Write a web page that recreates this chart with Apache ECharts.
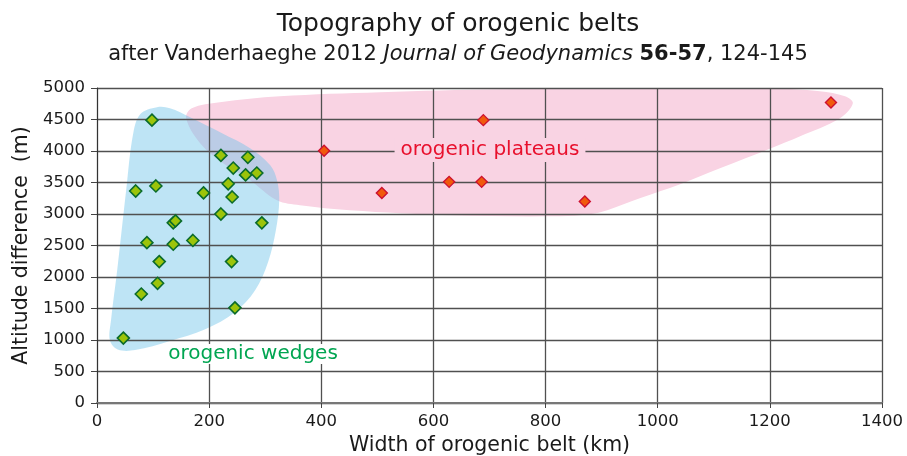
<!DOCTYPE html>
<html>
<head>
<meta charset="utf-8">
<script src="https://cdn.jsdelivr.net/npm/echarts@6/dist/echarts.min.js"></script>
<style>html,body{margin:0;padding:0;background:#fff}#c{width:907px;height:456px}</style>
</head>
<body>
<div id="c"></div>
<script>
// ---- data ----
const wedgeX = [98, 221, 269, 243, 265, 285, 234, 69, 105, 190, 241, 221, 294, 136, 140, 89, 136, 171, 111, 240, 108, 79, 246, 47];
const wedgeY = [4490, 3930, 3900, 3730, 3620, 3650, 3480, 3365, 3445, 3335, 3270, 3000, 2860, 2860, 2890, 2545, 2520, 2580, 2245, 2245, 1900, 1730, 1510, 1030];
const plateauX = [405, 508, 628, 686, 689, 870, 1309];
const plateauY = [4005, 3335, 3510, 3510, 4490, 3200, 4770];
// outline of the shaded fields (data units)
const wedgeFieldX = [107, 77, 64, 52, 36, 25, 23, 37, 68, 130, 193, 246, 282, 305, 319, 325, 321, 309, 273, 223, 166, 130];
const wedgeFieldY = [4694, 4583, 4249, 3376, 2106, 1313, 995, 850, 840, 985, 1170, 1440, 1789, 2233, 2741, 3217, 3535, 3773, 4043, 4281, 4535, 4678];
const plateauFieldX = [159, 169, 219, 326, 505, 719, 986, 1200, 1289, 1334, 1348, 1325, 1254, 1202, 1111, 1040, 968, 910, 879, 826, 630, 451, 362, 321, 273, 225, 184];
const plateauFieldY = [4519, 4678, 4773, 4868, 4932, 4979, 4995, 4995, 4948, 4868, 4757, 4519, 4233, 4043, 3725, 3471, 3249, 3059, 2995, 2963, 2979, 3059, 3138, 3217, 3535, 3804, 4122];
const xTicks = [0, 200, 400, 600, 800, 1000, 1200, 1400];
const yTicks = [0, 500, 1000, 1500, 2000, 2500, 3000, 3500, 4000, 4500, 5000];

const FONT = '"DejaVu Sans", Arial, sans-serif';
const chart = echarts.init(document.getElementById('c'), null, {renderer: 'canvas'});

function zip(xs, ys) { return xs.map((x, i) => [x, ys[i]]); }

function fieldSeries(name, xs, ys, color) {
  return {
    type: 'custom', name: name, silent: true, z: 1, clip: false,
    data: [[xs[0], ys[0]]],
    renderItem: function (params, api) {
      const pts = xs.map((x, i) => api.coord([x, ys[i]]));
      return {
        type: 'polygon',
        shape: {points: pts, smooth: 0.35},
        style: {fill: color, stroke: null}
      };
    }
  };
}

const plainNum = v => String(v);

chart.setOption({
  backgroundColor: '#ffffff',
  animation: false,
  grid: {left: 97, right: 25, top: 88, bottom: 53, containLabel: false, outerBoundsMode: 'none'},
  xAxis: {
    type: 'value', z: 3, min: xTicks[0], max: xTicks[xTicks.length - 1], interval: 200,
    name: 'Width of orogenic belt (km)', nameLocation: 'middle', nameGap: 32,
    nameTextStyle: {fontFamily: FONT, fontSize: 20.5, color: '#1a1a1a'},
    axisLine: {show: true, lineStyle: {color: '#777', width: 2}},
    axisTick: {show: true, length: 5, lineStyle: {color: '#444'}},
    axisLabel: {fontFamily: FONT, fontSize: 16.5, color: '#1a1a1a', margin: 10, formatter: plainNum},
    splitLine: {show: true, lineStyle: {color: '#505050', width: 1.3}}
  },
  yAxis: {
    type: 'value', z: 3, min: yTicks[0], max: yTicks[yTicks.length - 1], interval: 500,
    name: 'Altitude difference  (m)', nameLocation: 'middle', nameGap: 61, nameRotate: 90,
    nameTextStyle: {fontFamily: FONT, fontSize: 20.5, color: '#1a1a1a'},
    axisLine: {show: true, lineStyle: {color: '#333', width: 1}},
    axisTick: {show: true, length: 6, lineStyle: {color: '#444'}},
    axisLabel: {fontFamily: FONT, fontSize: 16.5, color: '#1a1a1a', margin: 12, formatter: plainNum},
    splitLine: {show: true, lineStyle: {color: '#505050', width: 1.3}}
  },
  graphic: [
    {type: 'text', x: 458, y: 24, z: 100,
     style: {text: 'Topography of orogenic belts', font: '25px ' + FONT, fill: '#1a1a1a', align: 'center', verticalAlign: 'middle', textAlign: 'center', textVerticalAlign: 'middle'}},
    {type: 'text', x: 458, y: 55, z: 100,
     style: {
       text: '{a|after Vanderhaeghe 2012 }{i|Journal of Geodynamics }{b|56-57}{a|, 124-145}',
       align: 'center', verticalAlign: 'middle', textAlign: 'center', textVerticalAlign: 'middle',
       font: '21px ' + FONT, fill: '#1a1a1a',
       rich: {
         a: {fontSize: 21, fontFamily: FONT, fill: '#1a1a1a', color: '#1a1a1a'},
         i: {fontSize: 21, fontFamily: FONT, fontStyle: 'italic', fill: '#1a1a1a', color: '#1a1a1a'},
         b: {fontSize: 21, fontFamily: FONT, fontWeight: 'bold', fill: '#1a1a1a', color: '#1a1a1a'}
       }
     }},
    {type: 'text', x: 490, y: 150, z: 100,
     style: {text: 'orogenic plateaus', font: '20px ' + FONT, fill: '#e8102d', align: 'center', verticalAlign: 'middle', textAlign: 'center', textVerticalAlign: 'middle',
             backgroundColor: '#f9d3e3', padding: [2, 6, 2, 6]}},
    {type: 'text', x: 253, y: 354, z: 100,
     style: {text: 'orogenic wedges', font: '20px ' + FONT, fill: '#00a551', align: 'center', verticalAlign: 'middle', textAlign: 'center', textVerticalAlign: 'middle',
             backgroundColor: '#ffffff', padding: [0, 3, 0, 3]}}
  ],
  series: [
    fieldSeries('plateau field', plateauFieldX, plateauFieldY, '#f9d3e3'),
    fieldSeries('wedge field', wedgeFieldX, wedgeFieldY, 'rgba(111,195,233,0.45)'),
    {
      type: 'scatter', name: 'orogenic wedges', z: 5,
      data: zip(wedgeX, wedgeY), symbol: 'diamond', symbolSize: 12,
      itemStyle: {color: '#9cc40a', borderColor: '#0b6b2c', borderWidth: 1.6, opacity: 1}
    },
    {
      type: 'scatter', name: 'orogenic plateaus', z: 5,
      data: zip(plateauX, plateauY), symbol: 'diamond', symbolSize: 11,
      itemStyle: {color: '#f05a0c', borderColor: '#cc1030', borderWidth: 1.4, opacity: 1}
    }
  ]
});
</script>
</body>
</html>
